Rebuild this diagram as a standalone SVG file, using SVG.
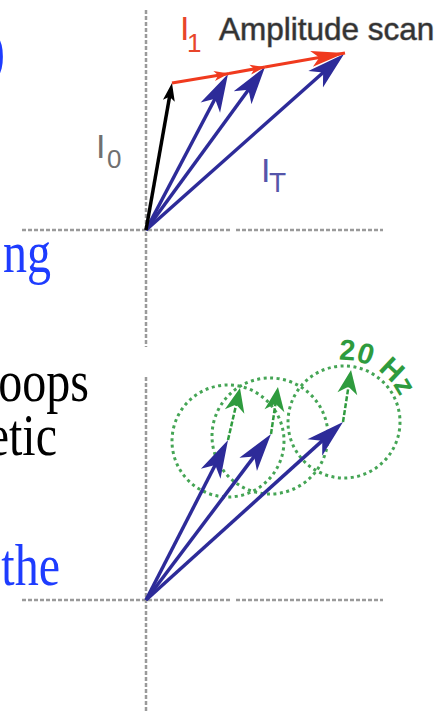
<svg xmlns="http://www.w3.org/2000/svg" width="448" height="712" viewBox="0 0 448 712">
<style>
.axis{stroke:#9a9a9a;stroke-width:2.5;stroke-dasharray:4 2;fill:none}
.blue{stroke:#2d2b99;stroke-width:3.5;fill:none;marker-end:url(#hb)}
.red{stroke:#f03a1e;stroke-width:3;fill:none}
.circ{stroke:#45a555;stroke-width:3;stroke-dasharray:3 3.5;fill:none}
.grn{stroke:#2e9b3e;stroke-width:2.5;stroke-dasharray:5 2;fill:none;marker-end:url(#hg)}
.side{font-family:"Liberation Serif","Times New Roman",serif;font-size:60px;text-anchor:end}
.lab{font-family:"Liberation Sans",Arial,sans-serif}
</style>
<defs>
<marker id="hb" viewBox="-40 -13 42 26" refX="-20" refY="0" markerWidth="42" markerHeight="26" markerUnits="userSpaceOnUse" orient="auto">
<path d="M0,0 L-38,-11 L-28,0 L-38,11 Z" fill="#2d2b99"/>
</marker>
<marker id="hg" viewBox="-26 -13 28 26" refX="-12" refY="0" markerWidth="28" markerHeight="26" markerUnits="userSpaceOnUse" orient="auto">
<path d="M0,0 L-24,-10 L-17,0 L-24,10 Z" fill="#2e9b3e"/>
</marker>
<marker id="hk" viewBox="-20 -8 22 16" refX="-8" refY="0" markerWidth="22" markerHeight="16" markerUnits="userSpaceOnUse" orient="auto">
<path d="M0,0 L-18,-6 L-14,0 L-18,6 Z" fill="#000"/>
</marker>
<marker id="hr1" viewBox="-18 -8 20 16" refX="0" refY="0" markerWidth="20" markerHeight="16" markerUnits="userSpaceOnUse" orient="auto">
<path d="M0,0 L-15,-5 L-11,0 L-15,5 Z" fill="#f03a1e"/>
</marker>
<marker id="hr2" viewBox="-38 -10 40 20" refX="0" refY="0" markerWidth="40" markerHeight="20" markerUnits="userSpaceOnUse" orient="auto">
<path d="M0,0 L-34,-8 L-26,0 L-34,8 Z" fill="#f03a1e"/>
</marker>
</defs>

<g id="side-text">
<text class="side" transform="translate(5,71) scale(0.8,1)" fill="#1e3cff">)</text>
<text class="side" transform="translate(51,272) scale(0.8,1)" fill="#1e3cff">ng</text>
<text class="side" transform="translate(89,401) scale(0.8,1)" fill="#000">oops</text>
<text class="side" transform="translate(57,455) scale(0.8,1)" fill="#000">etic</text>
<text class="side" transform="translate(60,585) scale(0.8,1)" fill="#1e3cff">the</text>
</g>

<g id="axes">
<line class="axis" x1="146" y1="10" x2="146" y2="347"/>
<line class="axis" x1="146" y1="377" x2="146" y2="712"/>
<line class="axis" x1="22" y1="230" x2="230" y2="230"/>
<line class="axis" x1="236" y1="230" x2="383" y2="230"/>
<line class="axis" x1="22" y1="600" x2="230" y2="600"/>
<line class="axis" x1="236" y1="600" x2="383" y2="600"/>
</g>

<g id="circles">
<circle class="circ" cx="228" cy="441" r="56"/>
<circle class="circ" cx="270" cy="436" r="58"/>
<circle class="circ" cx="344" cy="422" r="56"/>
</g>

<g id="connectors">
<path class="blue" d="M146,230 L218.7,91.7"/>
<path class="blue" d="M146,230 L253.2,83.2"/>
<path class="blue" d="M146,230 L329.1,67.3"/>
<path d="M146,230 L170.6,90.9" stroke="#000" stroke-width="3.5" fill="none" marker-end="url(#hk)"/>
<path class="red" d="M172,83 L229,73.5" marker-end="url(#hr1)"/>
<path class="red" d="M229,73.5 L265,67" marker-end="url(#hr1)"/>
<path class="red" d="M265,67 L345,53" marker-end="url(#hr2)"/>
<path class="blue" d="M146,600 L218.9,457.8"/>
<path class="blue" d="M146,600 L259.0,450.0"/>
<path class="blue" d="M146,600 L328.2,435.4"/>
<path class="grn" d="M228,440 L237.3,399.7"/>
<path class="grn" d="M271,434 L276.2,398.9"/>
<path class="grn" d="M343,422 L349.2,381.9"/>
</g>

<g id="labels" class="lab">
<text fill="#e8452a"><tspan x="180" y="40" font-size="34">I</tspan><tspan x="187" y="52" font-size="26">1</tspan></text>
<text x="219" y="40" font-size="31.5" fill="#333" stroke="#a0a0a0" stroke-width="1" paint-order="stroke">Amplitude scan</text>
<text fill="#707070"><tspan x="96" y="158" font-size="34">I</tspan><tspan x="107" y="168" font-size="26">0</tspan></text>
<text fill="#5555aa"><tspan x="261" y="182" font-size="34">I</tspan><tspan x="269" y="192" font-size="28">T</tspan></text>
<path id="arc20" d="M338.8,360.1 A62,62 0 0 1 404.1,411.2" fill="none"/>
<text font-size="29" font-weight="bold" fill="#2e9b3e"><textPath href="#arc20">20 Hz</textPath></text>
</g>
</svg>
